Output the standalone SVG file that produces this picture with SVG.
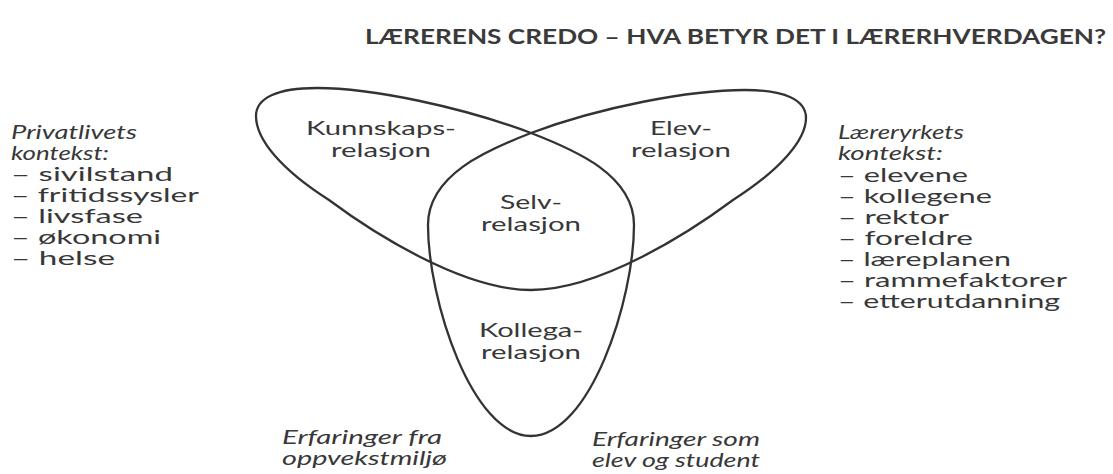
<svg xmlns="http://www.w3.org/2000/svg" width="1113" height="474" viewBox="0 0 1113 474">
<style>
.bg{fill:#ffffff}
.t{font-family:Lato,"Open Sans","Liberation Sans",sans-serif;fill:#383838;font-size:19px}
.ti{font-family:Lato,"Open Sans","Liberation Sans",sans-serif;fill:#383838;font-size:19px;font-style:italic}
.lab{font-family:Lato,"Open Sans","Liberation Sans",sans-serif;fill:#383838;font-size:20px;text-anchor:middle}
.title{font-family:Lato,"Open Sans","Liberation Sans",sans-serif;fill:#3a3a3a;font-size:20px;font-weight:700}
.curve{fill:none;stroke:#333333;stroke-width:2.3;stroke-linejoin:round}
</style>
<rect class="bg" x="0" y="0" width="1113" height="474"/>
<text class="title" x="365" y="44" textLength="741" lengthAdjust="spacingAndGlyphs">LÆRERENS CREDO – HVA BETYR DET I LÆRERHVERDAGEN?</text>
<g id="connectors">
<path class="curve" d="M 531,133 C 575,150 634,175 634,225 C 634,300 590,436 531,436 C 472,436 428,300 428,225 C 428,175 487,150 531,133 C 600,107 690,90 745,90 C 785,90 806,100 806,118 C 806,140 780,170 733,200 C 690,232 600,290 531,290 C 462,290 372,232 329,200 C 282,170 256,140 256,116 C 256,98 277,88 317,88 C 372,88 462,107 531,133 Z"/>
</g>
<g id="kunnskap">
<text class="lab" x="381" y="135" textLength="150" lengthAdjust="spacingAndGlyphs">Kunnskaps-</text>
<text class="lab" x="381" y="157" textLength="100" lengthAdjust="spacingAndGlyphs">relasjon</text>
</g>
<g id="elev">
<text class="lab" x="681" y="135" textLength="62" lengthAdjust="spacingAndGlyphs">Elev-</text>
<text class="lab" x="681" y="157" textLength="100" lengthAdjust="spacingAndGlyphs">relasjon</text>
</g>
<g id="selv">
<text class="lab" x="531" y="209" textLength="62" lengthAdjust="spacingAndGlyphs">Selv-</text>
<text class="lab" x="531" y="231" textLength="100" lengthAdjust="spacingAndGlyphs">relasjon</text>
</g>
<g id="kollega">
<text class="lab" x="531" y="337" textLength="104" lengthAdjust="spacingAndGlyphs">Kollega-</text>
<text class="lab" x="531" y="359" textLength="100" lengthAdjust="spacingAndGlyphs">relasjon</text>
</g>
<g id="privatliv">
<text class="ti" x="11" y="139" textLength="126" lengthAdjust="spacingAndGlyphs">Privatlivets</text>
<text class="ti" x="11" y="160" textLength="98" lengthAdjust="spacingAndGlyphs">kontekst:</text>
<text class="t" x="11" y="181" textLength="162" lengthAdjust="spacingAndGlyphs">– sivilstand</text>
<text class="t" x="11" y="202" textLength="188" lengthAdjust="spacingAndGlyphs">– fritidssysler</text>
<text class="t" x="11" y="223" textLength="132" lengthAdjust="spacingAndGlyphs">– livsfase</text>
<text class="t" x="11" y="244" textLength="150" lengthAdjust="spacingAndGlyphs">– økonomi</text>
<text class="t" x="11" y="265" textLength="104" lengthAdjust="spacingAndGlyphs">– helse</text>
</g>
<g id="laereryrke">
<text class="ti" x="838" y="139" textLength="126" lengthAdjust="spacingAndGlyphs">Læreryrkets</text>
<text class="ti" x="838" y="160" textLength="105" lengthAdjust="spacingAndGlyphs">kontekst:</text>
<text class="t" x="838" y="182" textLength="130" lengthAdjust="spacingAndGlyphs">– elevene</text>
<text class="t" x="838" y="203" textLength="154" lengthAdjust="spacingAndGlyphs">– kollegene</text>
<text class="t" x="838" y="224" textLength="111" lengthAdjust="spacingAndGlyphs">– rektor</text>
<text class="t" x="838" y="245" textLength="135" lengthAdjust="spacingAndGlyphs">– foreldre</text>
<text class="t" x="838" y="266" textLength="173" lengthAdjust="spacingAndGlyphs">– læreplanen</text>
<text class="t" x="838" y="287" textLength="229" lengthAdjust="spacingAndGlyphs">– rammefaktorer</text>
<text class="t" x="838" y="308" textLength="222" lengthAdjust="spacingAndGlyphs">– etterutdanning</text>
</g>
<g id="oppvekst">
<text class="ti" x="282" y="444" textLength="160" lengthAdjust="spacingAndGlyphs">Erfaringer fra</text>
<text class="ti" x="282" y="465" textLength="165" lengthAdjust="spacingAndGlyphs">oppvekstmiljø</text>
</g>
<g id="student">
<text class="ti" x="592" y="446" textLength="168" lengthAdjust="spacingAndGlyphs">Erfaringer som</text>
<text class="ti" x="592" y="467" textLength="168" lengthAdjust="spacingAndGlyphs">elev og student</text>
</g>
</svg>
